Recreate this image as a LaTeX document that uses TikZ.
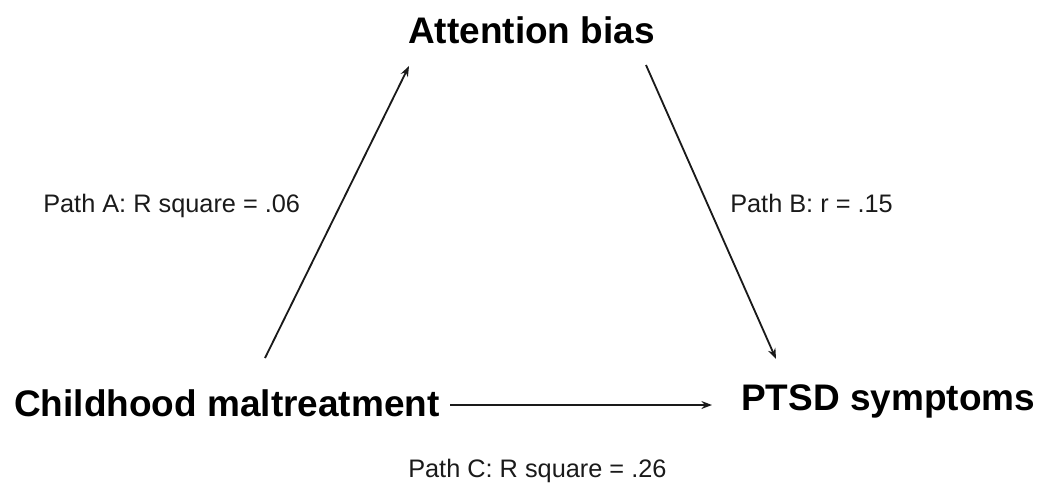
\documentclass[tikz,border=0pt]{standalone}
\usepackage{fontspec}
\setmainfont{Liberation Sans}
\usepackage{tikz}
\usetikzlibrary{arrows.meta}
\definecolor{nInk}{HTML}{1A1A1A}
\tikzset{
  varnode/.style={inner sep=0pt, anchor=base west, text=black,
    font=\fontsize{26.3}{30}\selectfont\bfseries},
  pathlbl/.style={inner sep=0pt, anchor=base west, text=nInk,
    font=\fontsize{18}{21}\selectfont},
  effarrow/.style={-{Stealth[length=7.5pt, width=5.6pt]}, line width=1.3pt, nInk},
}

\begin{document}
\begin{tikzpicture}[x=0.025cm, y=-0.025cm]
        \useasboundingbox (0,0) rectangle (1041,488);
        \node[varnode] (bias) at (408,43) {Attention bias};
        \node[varnode] (abuse) at (14,416) {Childhood maltreatment};
        \node[varnode] (ptsd) at (741,410) {PTSD symptoms};
        \node[pathlbl] (pathA) at (43,212) {Path A: R square = .06};
        \node[pathlbl] (pathB) at (730,212) {Path B: r = .15};
        \node[pathlbl] (pathC) at (408,477) {Path C: R square = .26};
        \coordinate (aFrom) at (265,358);
        \coordinate (aTo) at (409,66);
        \coordinate (bFrom) at (646,65);
        \coordinate (bTo) at (776,359);
        \coordinate (cFrom) at (450,405);
        \coordinate (cTo) at (712,405);
        \draw[effarrow] (aFrom) -- (aTo);
        \draw[effarrow] (bFrom) -- (bTo);
        \draw[effarrow] (cFrom) -- (cTo);
      \end{tikzpicture}
\end{document}
